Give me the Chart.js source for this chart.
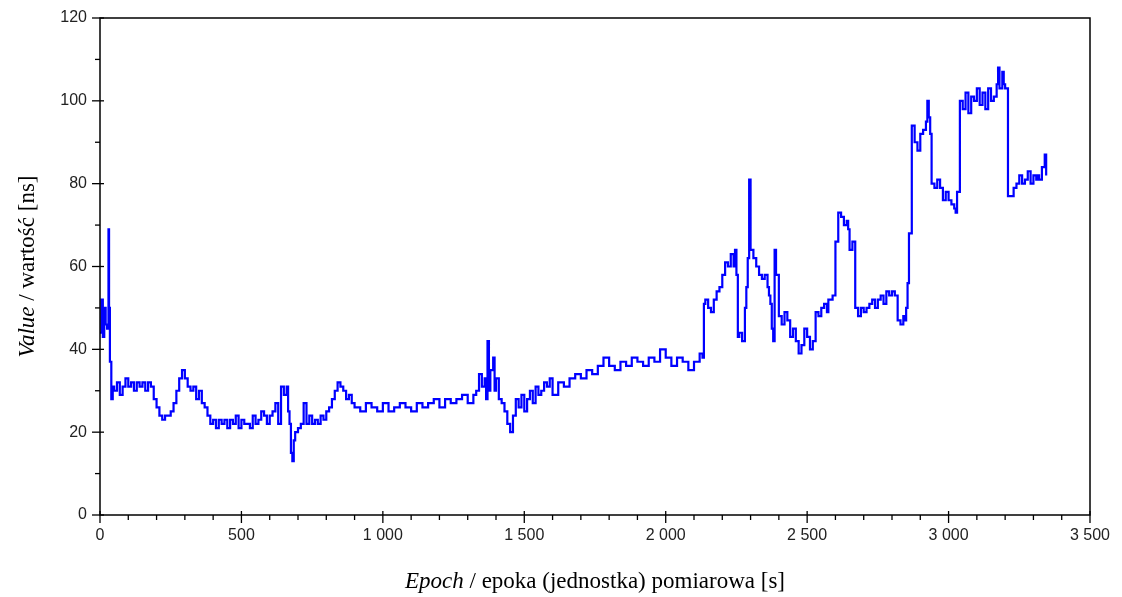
<!DOCTYPE html>
<html><head><meta charset="utf-8">
<script src="https://cdn.jsdelivr.net/npm/chart.js@4/dist/chart.umd.min.js"></script>
<style>html,body{margin:0;background:#fff}#wrap{width:1122px;height:597px}</style>
</head><body><div id="wrap"><canvas id="c"></canvas></div>
<script>
// data
const epochs = [0,5,10,15,20,25,30,32,35,40,45,50,60,70,80,90,100,110,120,130,140,150,160,170,180,190,200,210,220,230,240,250,260,270,280,290,300,310,320,330,340,350,360,370,380,390,400,410,420,430,440,450,460,470,480,490,500,510,520,530,540,550,560,570,580,590,600,610,620,630,640,650,660,665,670,675,680,685,690,700,710,720,730,740,750,760,770,780,790,800,810,820,830,840,850,860,870,880,890,900,920,940,960,980,1000,1020,1040,1060,1080,1100,1120,1140,1160,1180,1200,1220,1240,1260,1280,1300,1320,1330,1340,1350,1360,1365,1370,1375,1380,1390,1395,1400,1410,1420,1430,1440,1450,1460,1470,1480,1490,1500,1510,1520,1530,1540,1550,1560,1570,1580,1590,1600,1620,1640,1660,1680,1700,1720,1740,1760,1780,1800,1820,1840,1860,1880,1900,1920,1940,1960,1980,2000,2020,2040,2060,2080,2100,2120,2130,2135,2140,2150,2160,2170,2180,2190,2200,2210,2220,2230,2240,2245,2250,2255,2260,2270,2280,2285,2290,2295,2300,2310,2320,2330,2340,2350,2360,2365,2370,2375,2380,2385,2390,2400,2410,2420,2430,2440,2450,2460,2470,2480,2490,2500,2510,2520,2530,2540,2550,2560,2570,2575,2580,2590,2600,2610,2620,2630,2640,2645,2650,2660,2670,2680,2690,2700,2710,2720,2730,2740,2750,2760,2770,2780,2790,2800,2810,2820,2830,2840,2845,2850,2855,2860,2870,2880,2890,2900,2910,2920,2925,2930,2935,2940,2950,2960,2970,2980,2990,3000,3010,3020,3025,3030,3040,3050,3060,3070,3080,3090,3100,3110,3120,3130,3140,3150,3160,3170,3175,3180,3190,3195,3200,3210,3220,3230,3240,3250,3260,3270,3280,3290,3300,3310,3315,3320,3330,3340,3345];
const values = [44,52,43,50,46,45,69,50,37,28,31,30,32,29,31,33,31,32,30,32,31,32,30,32,31,28,26,24,23,24,24,25,27,30,33,35,33,31,30,31,28,30,27,26,24,22,23,21,23,22,23,21,23,22,24,21,23,22,22,21,24,22,23,25,24,22,24,25,27,22,31,29,31,25,22,15,13,18,20,21,22,27,22,24,22,23,22,24,23,25,26,28,30,32,31,30,28,29,27,26,25,27,26,25,27,25,26,27,26,25,27,26,27,28,26,28,27,28,29,27,29,30,34,31,33,28,42,30,35,38,30,33,28,27,25,22,20,24,28,26,29,25,28,30,27,31,29,30,32,31,33,29,32,31,33,34,33,35,34,36,38,36,35,37,36,38,37,36,38,37,40,38,36,38,37,35,37,39,38,51,52,50,49,52,54,55,58,61,60,63,60,64,58,43,44,42,50,55,62,81,64,62,60,58,57,58,55,53,51,45,42,64,58,48,46,49,47,43,45,42,39,41,45,43,40,42,49,48,50,51,49,52,52,53,66,73,72,70,71,69,64,66,50,48,50,49,50,51,52,50,52,53,51,54,53,54,53,47,46,48,47,50,56,68,94,90,88,92,93,95,100,96,92,80,79,81,79,76,78,76,75,74,73,78,100,98,102,97,101,100,103,99,102,98,103,100,101,104,108,103,107,104,103,77,77,79,80,82,80,81,83,80,82,81,82,81,84,87,82,83,82];

const xMajor = [0,500,1000,1500,2000,2500,3000,3500];
const yMajor = [0,20,40,60,80,100,120];

const fmt = v => v >= 1000 ? Math.floor(v/1000)+' '+String(v%1000).padStart(3,'0') : String(v);

const axesPlugin = {
  id:'axesDraw',
  afterDraw(chart){
    const ctx = chart.ctx, a = chart.chartArea, xs = chart.scales.x, ys = chart.scales.y;
    ctx.save();
    ctx.strokeStyle='#000'; ctx.lineWidth=1.5;
    ctx.strokeRect(a.left,a.top,a.right-a.left,a.bottom-a.top);
    ctx.fillStyle='#222'; ctx.font='16px "Liberation Sans", Arial, sans-serif';
    ctx.lineWidth=1.3;
    // x ticks
    for(let v=0; v<=3500; v+=100){
      const px = xs.getPixelForValue(v), major = v%500===0;
      ctx.beginPath(); ctx.moveTo(px, a.bottom-(major?4:0)); ctx.lineTo(px, a.bottom+(major?8:5)); ctx.stroke();
    }
    ctx.textAlign='center'; ctx.textBaseline='top';
    xMajor.forEach(v=>ctx.fillText(fmt(v), xs.getPixelForValue(v), a.bottom+13));
    // y ticks
    for(let v=0; v<=120; v+=10){
      const py = ys.getPixelForValue(v), major = v%20===0;
      ctx.beginPath(); ctx.moveTo(a.left+(major?4:0), py); ctx.lineTo(a.left-(major?8:5), py); ctx.stroke();
    }
    ctx.textAlign='right'; ctx.textBaseline='middle';
    yMajor.forEach(v=>ctx.fillText(fmt(v), a.left-13, ys.getPixelForValue(v)));
    // titles
    ctx.fillStyle='#000'; ctx.textBaseline='alphabetic'; ctx.textAlign='left';
    const it='italic 23px "Liberation Serif", "Times New Roman", serif', rg='23px "Liberation Serif", "Times New Roman", serif';
    const xt1='Epoch', xt2=' / epoka (jednostka) pomiarowa [s]';
    ctx.font=it; const w1=ctx.measureText(xt1).width; ctx.font=rg; const w2=ctx.measureText(xt2).width;
    let sx=(a.left+a.right)/2-(w1+w2)/2;
    ctx.font=it; ctx.fillText(xt1,sx,588); ctx.font=rg; ctx.fillText(xt2,sx+w1,588);
    const yt1='Value', yt2=' / wartość [ns]';
    ctx.font=it; const v1=ctx.measureText(yt1).width; ctx.font=rg; const v2=ctx.measureText(yt2).width;
    ctx.translate(34,(a.top+a.bottom)/2); ctx.rotate(-Math.PI/2);
    sx=-(v1+v2)/2;
    ctx.font=it; ctx.fillText(yt1,sx,0); ctx.font=rg; ctx.fillText(yt2,sx+v1,0);
    ctx.restore();
  }
};

new Chart(document.getElementById('c'),{
  type:'line',
  data:{ datasets:[{ data: epochs.map((t,i)=>({x:t,y:values[i]})), borderColor:'#0000ff', borderWidth:2.2, pointRadius:0, tension:0, stepped:true, fill:false }]},
  options:{
    responsive:true, maintainAspectRatio:false, animation:false,
    layout:{ padding:{left:100,right:32,top:18,bottom:82} },
    plugins:{ legend:{display:false}, tooltip:{enabled:false} },
    scales:{
      x:{ type:'linear', min:0, max:3500, display:false },
      y:{ min:0, max:120, display:false }
    }
  },
  plugins:[axesPlugin]
});
</script></body></html>
